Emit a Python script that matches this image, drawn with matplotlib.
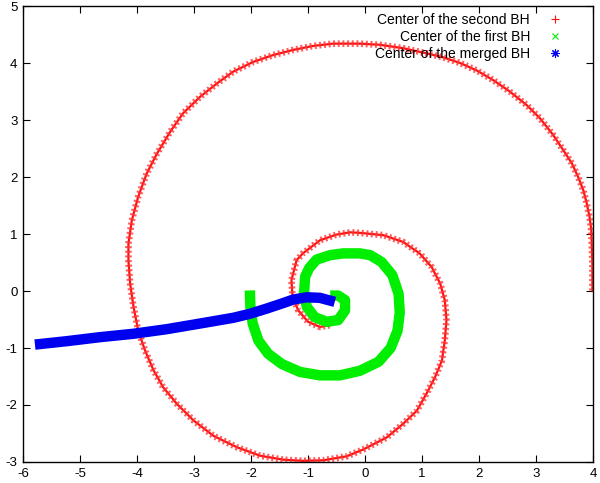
import matplotlib
matplotlib.use('Agg')
import matplotlib.pyplot as plt
from matplotlib.lines import Line2D

plt.rcParams['font.family'] = ['Liberation Sans', 'DejaVu Sans']
plt.rcParams['axes.unicode_minus'] = False

# Center of the second BH
bh2_x = [3.99, 3.99, 3.98, 3.97, 3.94, 3.89, 3.83, 3.74, 3.63, 3.48, 3.30, 3.07,
         2.84, 2.54, 2.25, 1.96, 1.67, 1.37, 1.08, 0.67, 0.26, -0.09, -0.56,
         -0.91, -1.26, -1.61, -1.96, -2.31, -2.60, -2.89, -3.19, -3.42, -3.65,
         -3.83, -3.98, -4.09, -4.15, -4.15, -4.12, -4.06, -3.98, -3.86, -3.71,
         -3.54, -3.30, -3.01, -2.66, -2.25, -1.84, -1.43, -1.08, -0.73, -0.32,
         -0.03, 0.38, 0.67, 0.91, 1.08, 1.23, 1.35, 1.40, 1.43, 1.40, 1.32,
         1.17, 0.96, 0.67, 0.32, -0.09, -0.26, -0.50, -0.79, -1.09, -1.20,
         -1.29, -1.27, -1.17, -1.00, -0.79, -0.62]
bh2_y = [0.01, 0.48, 0.77, 1.07, 1.30, 1.54, 1.77, 2.00, 2.24, 2.47, 2.74, 3.03,
         3.26, 3.50, 3.70, 3.87, 4.00, 4.10, 4.17, 4.26, 4.32, 4.34, 4.34,
         4.30, 4.23, 4.14, 4.02, 3.85, 3.64, 3.41, 3.12, 2.79, 2.41,
         2.06, 1.65, 1.24, 0.83, 0.54, 0.13, -0.28, -0.69, -1.04, -1.39,
         -1.69, -1.98, -2.27, -2.54, -2.74, -2.89, -2.96, -2.98, -2.97, -2.90,
         -2.78, -2.57, -2.33, -2.10, -1.80, -1.51, -1.22, -0.87, -0.51, -0.16, 0.13,
         0.42, 0.66, 0.86, 0.98, 1.02, 1.03, 0.99, 0.89, 0.66, 0.54,
         0.19, -0.11, -0.34, -0.54, -0.63, -0.60]

# Center of the first BH
bh1_x = [-2.02, -2.01, -1.97, -1.87, -1.70, -1.46, -1.14, -0.79, -0.44, -0.09,
         0.24, 0.45, 0.57, 0.61, 0.59, 0.48, 0.29, 0.09, -0.09, -0.38, -0.61,
         -0.85, -0.98, -1.05, -1.07, -1.02, -0.88, -0.67, -0.47, -0.35, -0.35,
         -0.47, -0.61]
bh1_y = [0.01, -0.28, -0.57, -0.87, -1.10, -1.28, -1.42, -1.48, -1.48, -1.40,
         -1.24, -1.00, -0.70, -0.38, -0.05, 0.28, 0.51, 0.63, 0.66, 0.66, 0.63,
         0.55, 0.40, 0.25, -0.05, -0.28, -0.46, -0.54, -0.51, -0.34, -0.16,
         -0.08, -0.08]

# Center of the merged BH
bhm_x = [-0.53, -0.79, -1.02, -1.26, -1.43, -1.73, -2.02, -2.31, -2.89, -3.48,
         -4.06, -4.65, -5.23, -5.79]
bhm_y = [-0.19, -0.12, -0.11, -0.15, -0.21, -0.31, -0.40, -0.47, -0.57, -0.67,
         -0.75, -0.81, -0.88, -0.94]

red = '#ff1010'
green = '#00ee00'
blue = '#0000f0'

fig = plt.figure(figsize=(6, 4.83), dpi=100)
ax = fig.add_axes([0.0383, 0.0435, 0.95, 0.944])

# red: solid core plus short dashes to look like packed '+' marks
ax.plot(bh2_x, bh2_y, color=red, lw=1.6, solid_joinstyle='round')
ax.plot(bh2_x, bh2_y, color='#ff3535', lw=4.8, dashes=(0.3, 0.4), alpha=0.8)
ax.plot(bh1_x, bh1_y, color=green, lw=7.5, solid_capstyle='butt',
        solid_joinstyle='round')
ax.plot(bhm_x, bhm_y, color=blue, lw=7.5, solid_capstyle='butt',
        solid_joinstyle='round')

ax.set_xlim(-6, 4)
ax.set_ylim(-3, 5)
ax.set_xticks(range(-6, 5))
ax.set_yticks(range(-3, 6))
ax.tick_params(direction='in', top=True, right=True, length=5, width=0.8,
               labelsize=9.5, pad=4)
for s in ax.spines.values():
    s.set_linewidth(1.0)

handles = [
    Line2D([], [], color=red, marker='+', ls='none', ms=6, mew=0.8),
    Line2D([], [], color=green, marker='x', ls='none', ms=5, mew=0.8),
    Line2D([], [], color=blue, marker=(8, 2, 0), ls='none', ms=6, mew=0.8),
]
labels = ['Center of the second BH', 'Center of the first BH',
          'Center of the merged BH']
ax.legend(handles, labels, loc='upper right', markerfirst=False, frameon=False,
          fontsize=10, handlelength=2.0, handletextpad=0.8, labelspacing=0.22,
          borderaxespad=0.3, bbox_to_anchor=(0.975, 1.007))

fig.savefig('out.png', dpi=100)
